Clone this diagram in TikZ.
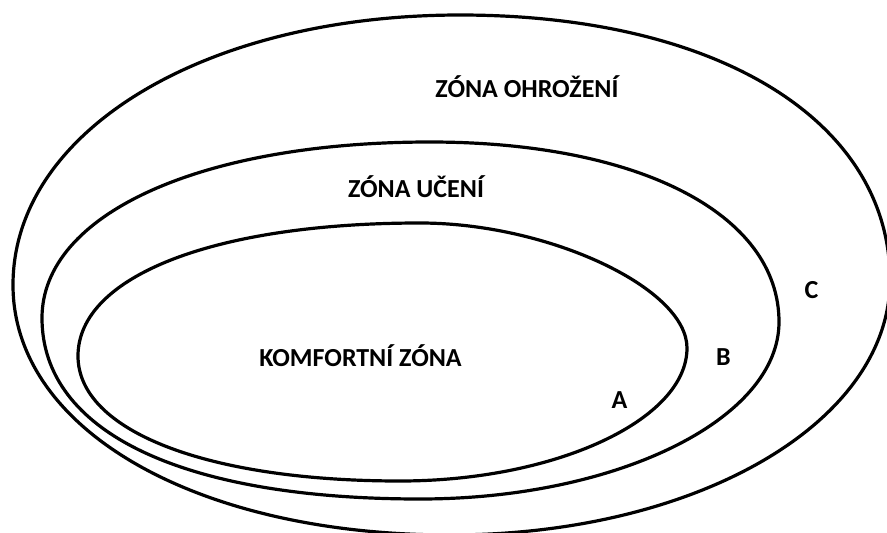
\documentclass[tikz,border=0pt]{standalone}
\usepackage{fontspec}
\setmainfont{Carlito}
\begin{document}
\begin{tikzpicture}[x=1pt,y=-1pt,
  zone/.style={draw=black,line width=3.2pt,line join=round},
  lbl/.style={anchor=base,inner sep=0pt,font=\fontsize{26}{26}\selectfont\bfseries,text=black}]
\useasboundingbox (0,0) rectangle (887,533);
\clip (0,0) rectangle (887,533);
\fill[white] (0,0) rectangle (887,533);
% outer zone
\draw[zone] (460,15) .. controls (718,15) and (890,121) .. (890,280)
  .. controls (890,423) and (696,535) .. (450,535)
  .. controls (197,535) and (13,430) .. (13,285)
  .. controls (13,131) and (205,15) .. cycle;
% middle zone
\draw[zone] (430,142) .. controls (639,142) and (779,214) .. (779,322)
  .. controls (779,419) and (617,499) .. (420,499)
  .. controls (182,499) and (42,432) .. (42,318)
  .. controls (42,214) and (201,142) .. cycle;
% inner zone
\draw[zone] (420,223) .. controls (548,223) and (687,288) .. (687,348)
  .. controls (687,420) and (555,481) .. (400,481)
  .. controls (207,481) and (78,431) .. (78,356)
  .. controls (78,276) and (215,223) .. cycle;
\node[lbl] (ohrozeni) at (527,97) {ZÓNA OHROŽENÍ};
\node[lbl] (uceni) at (416,197) {ZÓNA UČENÍ};
\node[lbl] (komfort) at (360.5,366) {KOMFORTNÍ ZÓNA};
\node[lbl] (a) at (619.5,408) {A};
\node[lbl] (b) at (723.5,365) {B};
\node[lbl] (c) at (811.5,298) {C};
\end{tikzpicture}
\end{document}
